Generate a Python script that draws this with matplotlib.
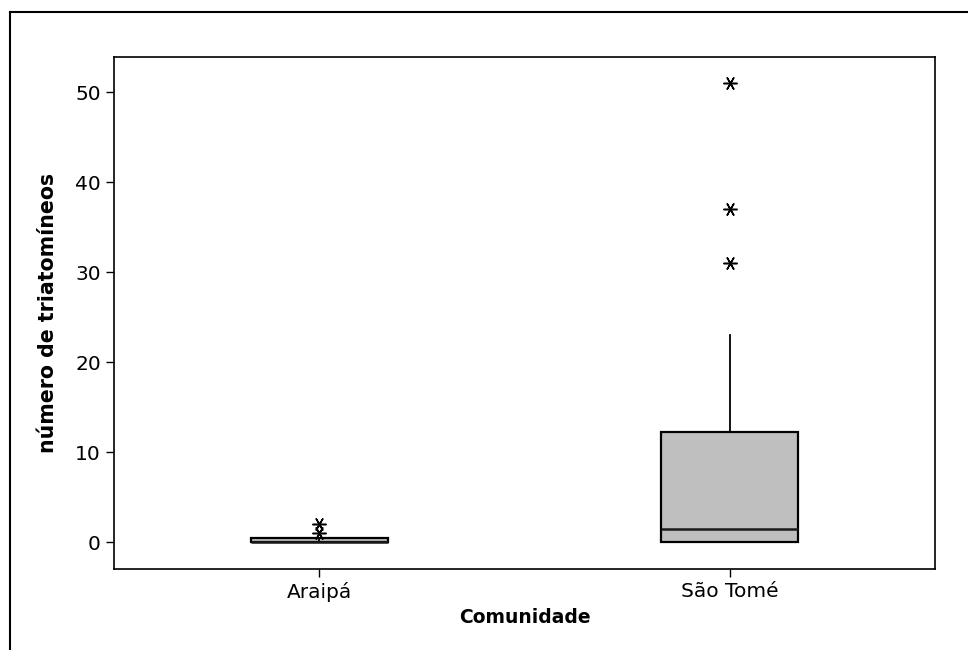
import matplotlib.pyplot as plt
from matplotlib.lines import Line2D

plt.rcParams['font.family'] = ['DejaVu Sans']

# Resumo dos boxplots por comunidade
comunidades = ['Araipá', 'São Tomé']
q1 = [0, 0]
mediana = [0, 1.5]
q3 = [0.4, 12.2]
bigode_inf = [0, 0]
bigode_sup = [0, 23]
outliers = [[1, 2], [31, 37, 51]]

yticks = [0, 10, 20, 30, 40, 50]

fig = plt.figure(figsize=(9.68, 6.5), dpi=100)
ax = fig.add_axes([114 / 968, 81 / 650, 821 / 968, 512 / 650])

stats = []
for i, nome in enumerate(comunidades):
    stats.append({
        'label': nome,
        'q1': q1[i], 'med': mediana[i], 'q3': q3[i],
        'whislo': bigode_inf[i], 'whishi': bigode_sup[i],
        'fliers': outliers[i],
    })

ax.bxp(stats, positions=[1, 2], widths=0.333, patch_artist=True,
       showcaps=False,
       boxprops=dict(facecolor='#bfbfbf', edgecolor='black', linewidth=1.6),
       medianprops=dict(color='#1a1a1a', linewidth=1.8),
       whiskerprops=dict(color='black', linewidth=1.3),
       flierprops=dict(marker=(6, 2, 90), markersize=10, markeredgecolor='black',
                       markeredgewidth=1.1, linestyle='none'))

ax.set_xlim(0.5, 2.5)
ax.set_ylim(-3.0, 53.9)
ax.set_yticks(yticks)
ax.set_xticks([1, 2])
ax.set_xticklabels(comunidades)
ax.tick_params(labelsize=14.5, length=6, width=1, direction='out', colors='black')

for s in ax.spines.values():
    s.set_linewidth(1.2)

ax.set_xlabel('Comunidade', fontsize=13.5, fontweight='bold', labelpad=4)
ax.set_ylabel('número de triatomíneos', fontsize=14.8, fontweight='bold', labelpad=12)

# moldura externa (cortada à direita e embaixo)
x0 = 10 / 968
y0 = 1 - 12 / 650
fig.add_artist(Line2D([x0, x0], [0, y0], transform=fig.transFigure, color='black', linewidth=1.5))
fig.add_artist(Line2D([x0, 1], [y0, y0], transform=fig.transFigure, color='black', linewidth=1.5))

fig.savefig('out.png', dpi=100)
